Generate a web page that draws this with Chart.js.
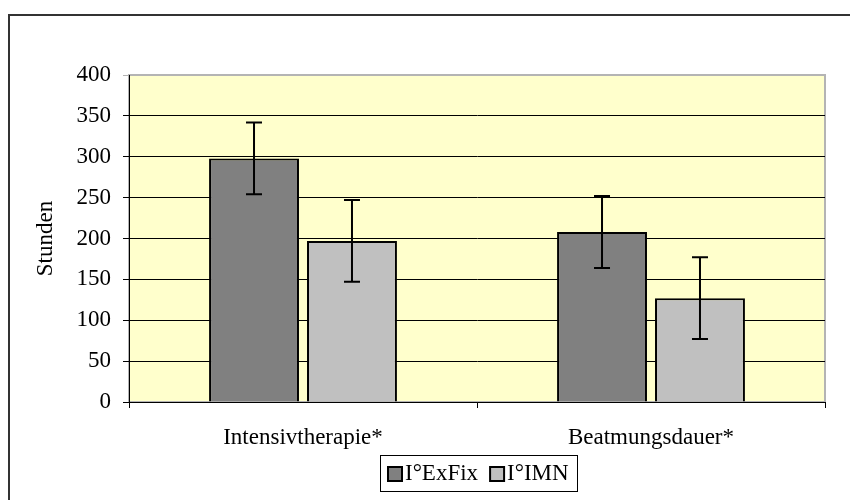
<!DOCTYPE html>
<html>
<head>
<meta charset="utf-8">
<script src="https://cdn.jsdelivr.net/npm/chart.js@4/dist/chart.umd.min.js"></script>
<style>
  html, body { margin: 0; padding: 0; background: #fff; }
  canvas { display: block; }
</style>
</head>
<body>
<canvas id="chart" width="850" height="500"></canvas>
<script>
const categories = ["Intensivtherapie*", "Beatmungsdauer*"];
const seriesNames = ["I°ExFix", "I°IMN"];
const exfixValues = [298, 208];
const exfixErrors = [44, 44];
const imnValues = [197, 127];
const imnErrors = [50, 50];
const yTicks = [0, 50, 100, 150, 200, 250, 300, 350, 400];

const serif = "'Liberation Serif', 'Times New Roman', serif";
const fontSize = 23;

// yellow plot background + grey frame, outer chart border
const backdrop = {
  id: "backdrop",
  beforeDraw(chart) {
    const { ctx, chartArea: a } = chart;
    ctx.save();
    ctx.strokeStyle = "#333";
    ctx.lineWidth = 2;
    ctx.beginPath();
    ctx.moveTo(9, 520);
    ctx.lineTo(9, 15);
    ctx.lineTo(870, 15);
    ctx.stroke();
    ctx.fillStyle = "#FFFFCC";
    ctx.fillRect(a.left, a.top, a.right - a.left, a.bottom - a.top);
    ctx.strokeStyle = "#B4B4B4";
    ctx.lineWidth = 2;
    ctx.strokeRect(a.left, a.top, a.right - a.left, a.bottom - a.top);
    ctx.restore();
  }
};

// error whiskers on top of every bar
const whiskers = {
  id: "whiskers",
  afterDatasetsDraw(chart) {
    const { ctx } = chart;
    const y = chart.scales.y;
    ctx.save();
    ctx.strokeStyle = "#000";
    ctx.lineWidth = 2;
    chart.data.datasets.forEach((ds, i) => {
      chart.getDatasetMeta(i).data.forEach((bar, j) => {
        const v = ds.data[j], e = ds.errors[j];
        const top = y.getPixelForValue(v + e);
        const bot = y.getPixelForValue(v - e);
        ctx.beginPath();
        ctx.moveTo(bar.x, top);
        ctx.lineTo(bar.x, bot);
        ctx.moveTo(bar.x - 8, top);
        ctx.lineTo(bar.x + 8, top);
        ctx.moveTo(bar.x - 8, bot);
        ctx.lineTo(bar.x + 8, bot);
        ctx.stroke();
      });
    });
    ctx.restore();
  }
};

// boxed legend under the axis labels
const boxLegend = {
  id: "boxLegend",
  afterDraw(chart) {
    const { ctx } = chart;
    ctx.save();
    ctx.font = fontSize + "px " + serif;
    ctx.textBaseline = "middle";
    const sq = 14, gapSq = 3, gapItem = 12;
    const widths = chart.data.datasets.map(ds => sq + gapSq + ctx.measureText(ds.label).width);
    const inner = widths.reduce((s, w) => s + w, 0) + gapItem * (widths.length - 1);
    const boxW = Math.round(inner + 16), boxH = 36;
    const left = 380, top = 455;
    ctx.strokeStyle = "#000";
    ctx.lineWidth = 1;
    ctx.strokeRect(left + 0.5, top + 0.5, boxW, boxH);
    let x = left + 8;
    const midY = top + boxH / 2 + 1;
    chart.data.datasets.forEach((ds, i) => {
      ctx.fillStyle = ds.backgroundColor;
      ctx.fillRect(x, midY - sq / 2, sq, sq);
      ctx.lineWidth = 2;
      ctx.strokeRect(x, midY - sq / 2, sq, sq);
      ctx.fillStyle = "#000";
      ctx.fillText(ds.label, x + sq + gapSq, midY);
      x += widths[i] + gapItem;
    });
    ctx.restore();
  }
};

new Chart(document.getElementById("chart"), {
  type: "bar",
  data: {
    labels: categories,
    datasets: [
      {
        label: seriesNames[0],
        data: exfixValues,
        errors: exfixErrors,
        backgroundColor: "#808080",
        borderColor: "#000",
        borderWidth: 2,
        categoryPercentage: 0.563,
        barPercentage: 0.918
      },
      {
        label: seriesNames[1],
        data: imnValues,
        errors: imnErrors,
        backgroundColor: "#C0C0C0",
        borderColor: "#000",
        borderWidth: 2,
        categoryPercentage: 0.563,
        barPercentage: 0.918
      }
    ]
  },
  options: {
    responsive: false,
    animation: false,
    layout: { padding: { left: 20, top: 75, right: 25, bottom: 0 } },
    plugins: { legend: { display: false }, tooltip: { enabled: false } },
    scales: {
      x: {
        afterFit(s) { s.height = 98; },
        grid: { drawOnChartArea: false, tickLength: 6, color: "#000" },
        border: { color: "#000", width: 1 },
        ticks: { font: { family: serif, size: fontSize }, color: "#000", padding: 16 }
      },
      y: {
        min: 0,
        max: 400,
        afterFit(s) { s.width = 109; },
        afterBuildTicks(s) { s.ticks = yTicks.map(v => ({ value: v })); },
        grid: {
          tickLength: 6,
          color: c => (c.tick && c.tick.value === 400 ? "#B4B4B4" : "#000"),
          lineWidth: 1
        },
        border: { color: "#000", width: 1 },
        ticks: { font: { family: serif, size: fontSize }, color: "#000", padding: 12 },
        title: { display: true, text: "Stunden", font: { family: serif, size: fontSize }, color: "#000", padding: { top: 12, bottom: 4 } }
      }
    }
  },
  plugins: [backdrop, whiskers, boxLegend]
});
</script>
</body>
</html>
